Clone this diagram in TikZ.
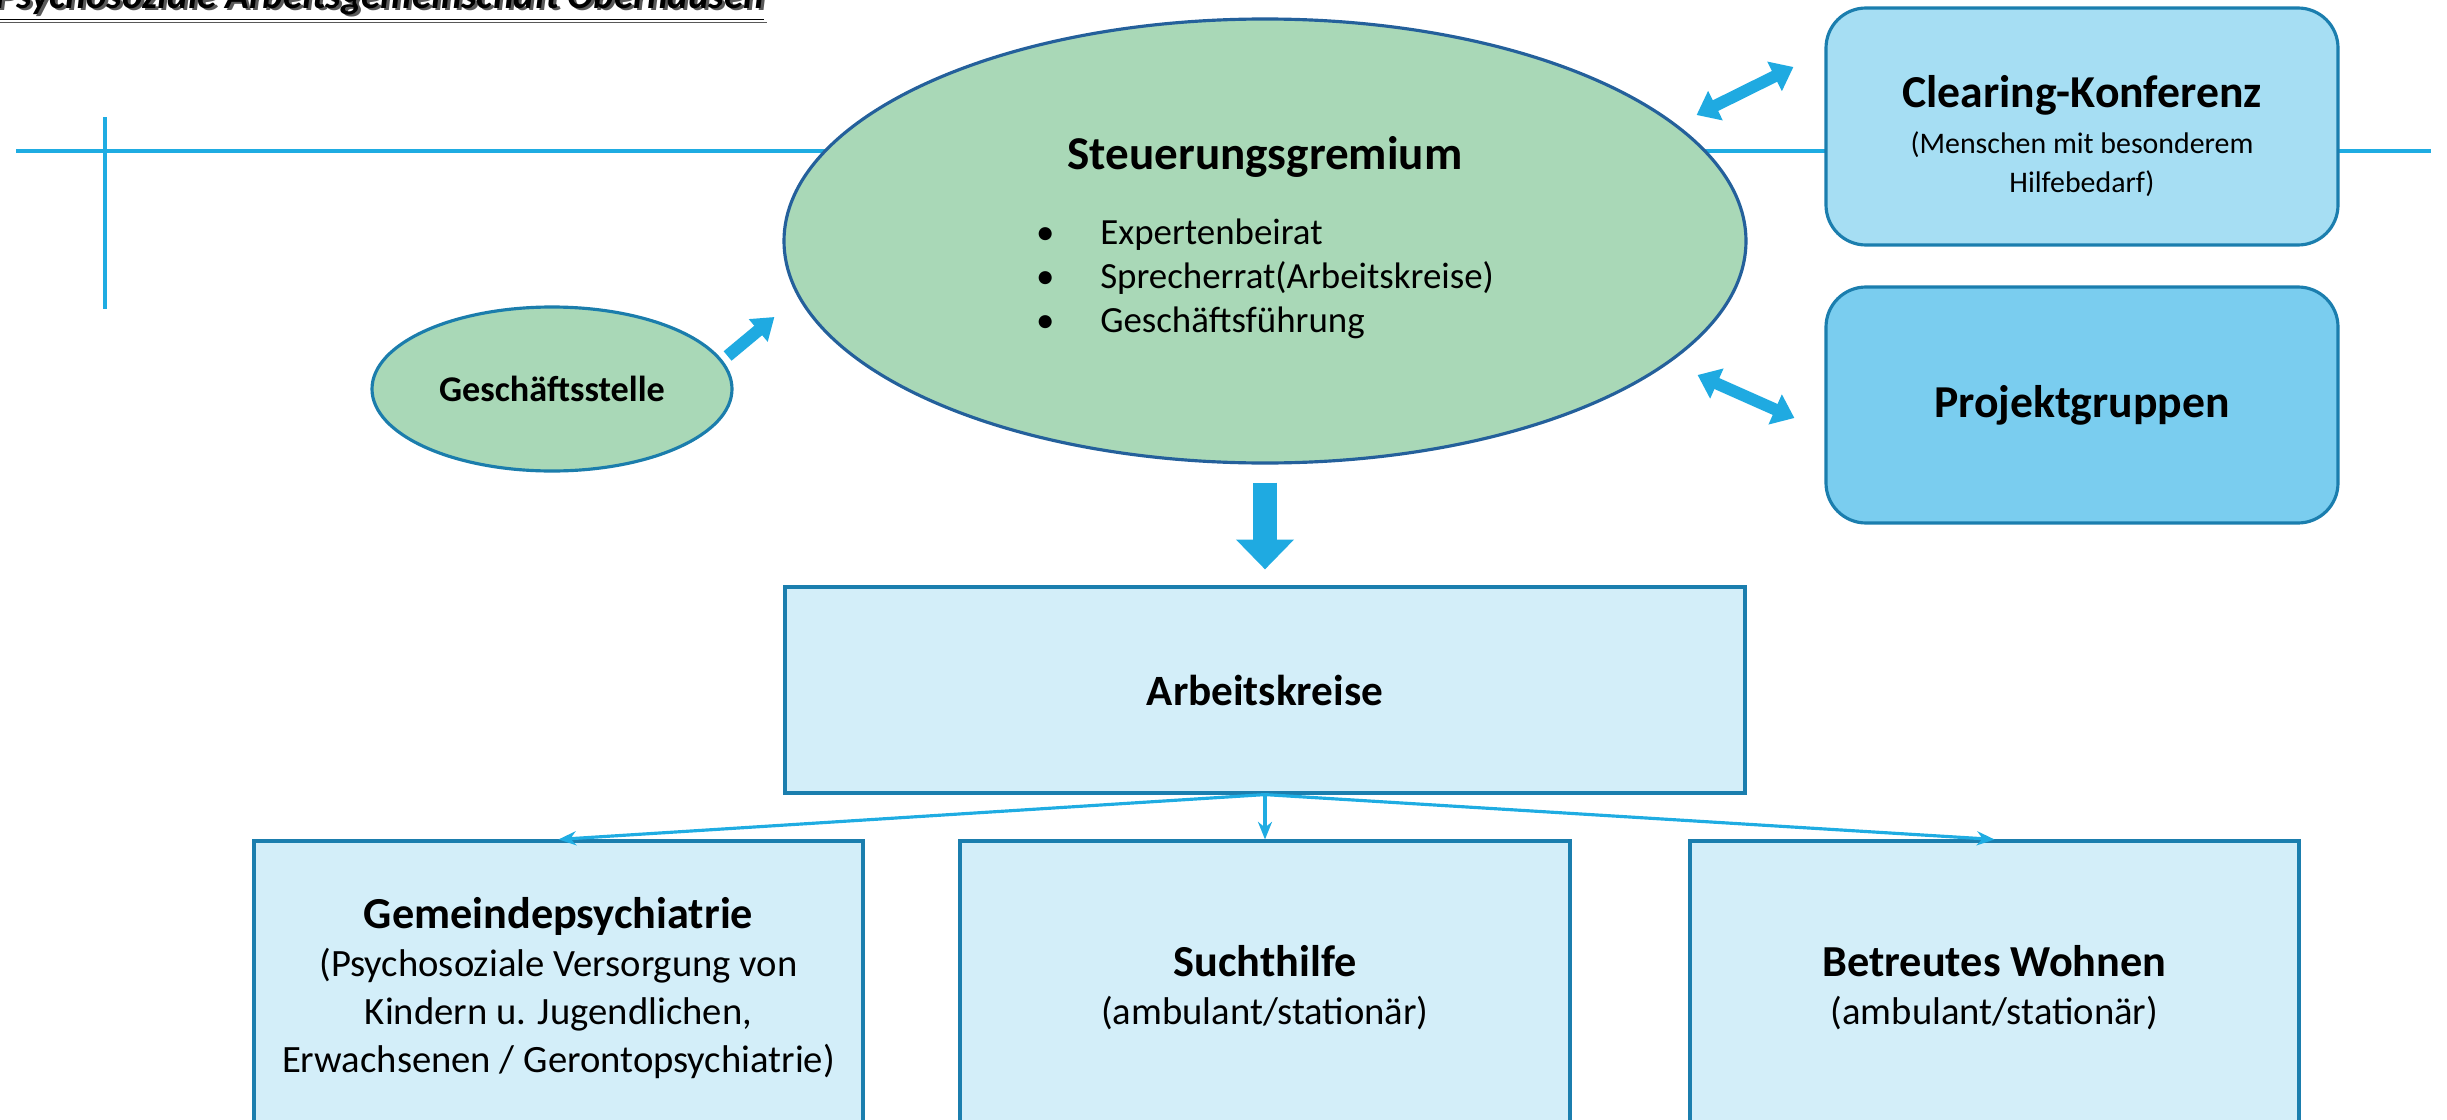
\documentclass[tikz,border=0pt]{standalone}
\usepackage{fontspec}
\setmainfont{Carlito}
\usepackage{tikz}
\usetikzlibrary{shapes.geometric, arrows.meta, positioning}
\definecolor{linecyan}{RGB}{31,172,226}
\definecolor{arrowblue}{RGB}{31,170,225}
\definecolor{ellgreen}{RGB}{169,216,183}
\definecolor{elledge}{RGB}{36,96,155}
\definecolor{gsedge}{RGB}{27,125,172}
\definecolor{boxedge}{RGB}{27,126,174}
\definecolor{paleblue}{RGB}{211,238,249}
\definecolor{clearblue}{RGB}{166,222,243}
\definecolor{projblue}{RGB}{122,205,239}

\begin{document}
\begin{tikzpicture}
\tikzstyle{gremium} = [ellipse, draw=elledge, line width=0.9pt, fill=ellgreen, inner sep=0pt]
\tikzstyle{kreis} = [rectangle, draw=boxedge, line width=0.9pt, fill=paleblue, align=center, inner sep=0pt, font=\fontsize{11}{13.7}\selectfont]
\tikzstyle{rund} = [rectangle, rounded corners=0.4cm, draw=boxedge, line width=0.9pt, align=center, inner sep=0pt]
\tikzstyle{blockarrow} = [arrowblue, line width=7pt, -{Triangle[length=8.5pt, width=16pt]}]
\tikzstyle{smallarrow} = [arrowblue, line width=3.5pt, -{Triangle[length=6pt, width=8pt]}]
\tikzstyle{dblarrow} = [arrowblue, line width=3.4pt, {Triangle[length=6pt, width=9pt]}-{Triangle[length=6pt, width=9pt]}]
\tikzstyle{titlefont} = [anchor=base west, inner sep=0pt, font=\bfseries\itshape\fontsize{11.1}{13}\selectfont]
\useasboundingbox (0,0) rectangle (24.47,-11.2);
\clip (0,0) rectangle (24.47,-11.2);
\node[titlefont, text=black!65] (titleshadow) at (-0.02,-0.11) {\underline{Psychosoziale Arbeitsgemeinschaft Oberhausen}};
\node[titlefont] (title) at (-0.05,-0.08) {\underline{Psychosoziale Arbeitsgemeinschaft Oberhausen}};
\draw[linecyan, line width=1.3pt] (0.16,-1.51) -- (24.31,-1.51);
\draw[linecyan, line width=0.9pt] (1.05,-1.17) -- (1.05,-3.09);
\node[gremium, minimum width=9.62cm, minimum height=4.44cm] (sg) at (12.65,-2.41) {\fontsize{10.5}{12.5}\selectfont
  \begin{tabular}{@{}l@{\hspace{13pt}}l@{}}
  \multicolumn{2}{c}{\bfseries\fontsize{13.4}{16}\selectfont Steuerungsgremium}\\[9pt]
  \textbullet & Expertenbeirat\\
  \textbullet & Sprecherrat(Arbeitskreise)\\
  \textbullet & Geschäftsführung
  \end{tabular}};
\node[gremium, draw=gsedge, minimum width=3.6cm, minimum height=1.64cm, font=\bfseries\fontsize{10.3}{12}\selectfont] (gs) at (5.52,-3.89) {Geschäftsstelle};
\node[rund, fill=clearblue, minimum width=5.12cm, minimum height=2.37cm, font=\fontsize{8.5}{11}\selectfont] (cc) at (20.82,-1.265) {\rule{0pt}{14.5pt}{\bfseries\fontsize{13}{16}\selectfont Clearing-Konferenz}\\[2pt] (Menschen mit besonderem\\ Hilfebedarf)};
\node[rund, fill=projblue, minimum width=5.12cm, minimum height=2.36cm, font=\bfseries\fontsize{13}{16}\selectfont] (pg) at (20.82,-4.05) {Projektgruppen};
\node[kreis, minimum width=9.6cm, minimum height=2.06cm] (ak) at (12.65,-6.9) {\bfseries\fontsize{12.3}{15}\selectfont Arbeitskreise};
\node[kreis, minimum width=6.09cm, minimum height=2.94cm] (gp) at (5.585,-9.88) {{\bfseries\fontsize{12.6}{15}\selectfont Gemeindepsychiatrie}\\ (Psychosoziale Versorgung von\\ Kindern u. Jugendlichen,\\ Erwachsenen / Gerontopsychiatrie)};
\node[kreis, minimum width=6.1cm, minimum height=2.94cm] (sh) at (12.65,-9.88) {{\bfseries\fontsize{12.6}{15}\selectfont Suchthilfe}\\ (ambulant/stationär)};
\node[kreis, minimum width=6.09cm, minimum height=2.94cm] (bw) at (19.945,-9.88) {{\bfseries\fontsize{12.6}{15}\selectfont Betreutes Wohnen}\\ (ambulant/stationär)};
\draw[smallarrow] ([shift={(-0.06,0.33)}]gs.east) -- ([shift={(-0.08,-0.76)}]sg.west);
\draw[blockarrow, shorten <=0.18cm, shorten >=0.16cm] (sg.south) -- (ak.north);
\draw[dblarrow] ([shift={(-0.51,1.26)}]sg.east) -- ([shift={(-0.31,0.595)}]cc.west);
\draw[dblarrow] ([shift={(-0.5,-1.34)}]sg.east) -- ([shift={(-0.3,-0.13)}]pg.west);
\foreach \b in {gp, sh, bw} {
    \draw[linecyan, line width=0.9pt, -{Stealth[length=5pt, width=4pt]}] (ak.south) -- (\b.north);
}
\end{tikzpicture}
\end{document}
